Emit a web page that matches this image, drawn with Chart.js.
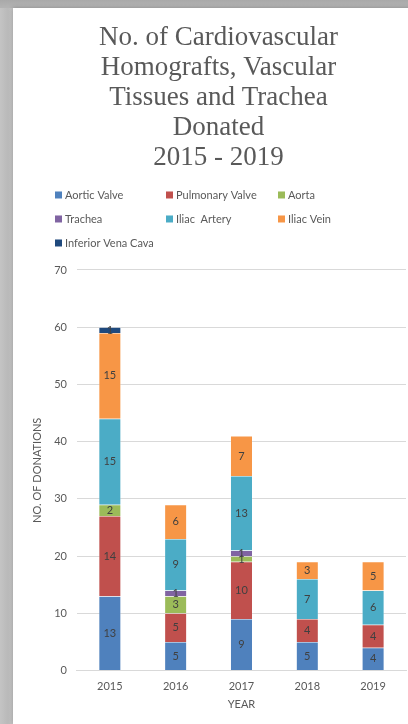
<!DOCTYPE html>
<html>
<head>
<meta charset="utf-8">
<script src="https://cdn.jsdelivr.net/npm/chart.js@4.4.1/dist/chart.umd.min.js"></script>
<style>
  html, body {
    margin: 0;
    padding: 0;
    width: 408px;
    height: 724px;
    overflow: hidden;
  }
  body {
    background: linear-gradient(90deg, #c4c4c4 0px, #b9b9b9 8px, #c8c8c8 13px);
    position: relative;
  }
  .top-band {
    position: absolute;
    left: 0;
    top: 0;
    width: 408px;
    height: 8px;
    background: linear-gradient(180deg, #a9a9a9, #b4b4b4);
  }
  .card {
    position: absolute;
    left: 13px;
    top: 8px;
    width: 410px;
    height: 716px;
    background: #ffffff;
    box-shadow: 0 0 4px rgba(0, 0, 0, 0.25);
  }
</style>
</head>
<body>
<div class="top-band"></div>
<div class="card">
  <canvas id="donationsChart" width="410" height="716"></canvas>
</div>
<script>
// Donations per year, one array per tissue type
const years = ['2015', '2016', '2017', '2018', '2019'];
const aorticValve = [13, 5, 9, 5, 4];
const pulmonaryValve = [14, 5, 10, 4, 4];
const aorta = [2, 3, 1, 0, 0];
const trachea = [0, 1, 1, 0, 0];
const iliacArtery = [15, 9, 13, 7, 6];
const iliacVein = [15, 6, 7, 3, 5];
const inferiorVenaCava = [1, 0, 0, 0, 0];

const yTicks = [0, 10, 20, 30, 40, 50, 60, 70];

const seriesNames = ['Aortic Valve', 'Pulmonary Valve', 'Aorta', 'Trachea', 'Iliac  Artery', 'Iliac Vein', 'Inferior Vena Cava'];
const seriesValues = [aorticValve, pulmonaryValve, aorta, trachea, iliacArtery, iliacVein, inferiorVenaCava];
const seriesColors = ['#4f81bd', '#c0504d', '#9bbb59', '#8064a2', '#4bacc6', '#f79646', '#1f497d'];

const textColor = '#595959';
const sansFont = 'Lato, "Liberation Sans", sans-serif';

// Value written in the middle of every non-empty segment
const segmentLabels = {
    id: 'segmentLabels',
    afterDatasetsDraw(chart) {
        const ctx = chart.ctx;
        ctx.save();
        ctx.font = '11px ' + sansFont;
        ctx.fillStyle = '#404040';
        ctx.textAlign = 'center';
        ctx.textBaseline = 'middle';
        chart.data.datasets.forEach((ds, i) => {
            const meta = chart.getDatasetMeta(i);
            meta.data.forEach((bar, j) => {
                const v = ds.data[j];
                if (!v) return;
                ctx.fillText(String(v), bar.x, (bar.y + bar.base) / 2);
            });
        });
        ctx.restore();
    }
};

// Legend laid out in three fixed columns between title and plot
const gridLegend = {
    id: 'gridLegend',
    afterDraw(chart) {
        const ctx = chart.ctx;
        const colX = [42, 153, 265];
        const top = chart.chartArea.top - 75;
        ctx.save();
        ctx.font = '11px ' + sansFont;
        ctx.textBaseline = 'middle';
        ctx.textAlign = 'left';
        chart.data.datasets.forEach((ds, i) => {
            const x = colX[i % 3];
            const y = top + Math.floor(i / 3) * 24;
            ctx.fillStyle = ds.backgroundColor;
            ctx.fillRect(x, y - 3.5, 7, 7);
            ctx.fillStyle = textColor;
            ctx.fillText(ds.label, x + 10, y);
        });
        ctx.restore();
    }
};

const datasets = seriesNames.map((name, i) => ({
    label: name,
    data: seriesValues[i],
    backgroundColor: seriesColors[i],
    borderColor: 'rgba(255,255,255,0.6)',
    borderWidth: 0.5,
    categoryPercentage: 0.5,
    barPercentage: 0.67
}));

const chart = new Chart(document.getElementById('donationsChart'), {
    type: 'bar',
    data: { labels: years, datasets: datasets },
    options: {
        responsive: false,
        animation: false,
        layout: { padding: { left: 18, right: 17, bottom: 13 } },
        plugins: {
            legend: { display: false },
            tooltip: { enabled: false },
            title: {
                display: true,
                text: ['No. of Cardiovascular', 'Homografts, Vascular', 'Tissues and Trachea', 'Donated', '2015 - 2019'],
                color: textColor,
                font: { family: '"Liberation Serif", "DejaVu Serif", serif', size: 27, weight: 'normal', lineHeight: 1.111 },
                padding: { top: 15, bottom: 97 }
            }
        },
        scales: {
            x: {
                stacked: true,
                grid: { display: false },
                border: { display: true, color: '#d9d9d9' },
                ticks: { color: textColor, font: { family: sansFont, size: 11 }, padding: 1 },
                title: { display: true, text: 'YEAR', color: textColor, font: { family: sansFont, size: 11 }, padding: { top: 4, bottom: 0 } }
            },
            y: {
                stacked: true,
                min: yTicks[0],
                max: yTicks[yTicks.length - 1],
                afterBuildTicks(axis) {
                    axis.ticks = yTicks.map(v => ({ value: v }));
                },
                grid: { color: '#d9d9d9', drawTicks: false },
                border: { display: false },
                ticks: { color: textColor, font: { family: sansFont, size: 11 }, padding: 10 },
                title: { display: true, text: 'NO. OF DONATIONS', color: textColor, font: { family: sansFont, size: 11 }, padding: { top: 0, bottom: 0 } }
            }
        }
    },
    plugins: [segmentLabels, gridLegend]
});
</script>
</body>
</html>
